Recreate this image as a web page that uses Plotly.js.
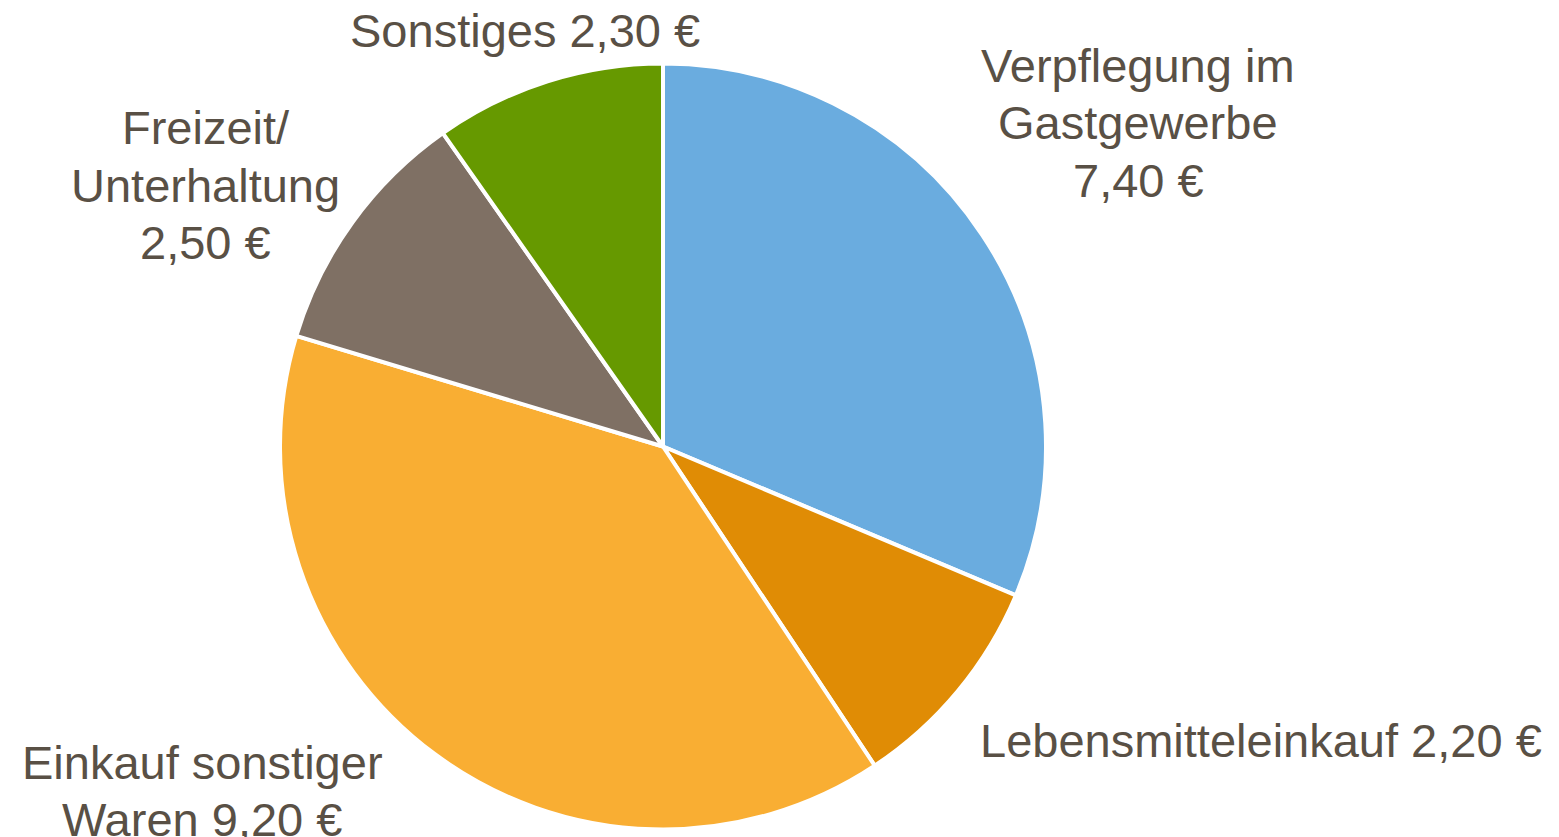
<!DOCTYPE html>
<html>
<head>
<meta charset="utf-8">
<script src="https://cdn.plot.ly/plotly-3.0.1.min.js"></script>
<style>html,body{margin:0;padding:0;background:#fff;}#chart{width:1559px;height:837px;}</style>
</head>
<body>
<div id="chart"></div>
<script>
const categories = ["Verpflegung im Gastgewerbe", "Lebensmitteleinkauf", "Einkauf sonstiger Waren", "Freizeit/ Unterhaltung", "Sonstiges"];
const labelLines = [["Verpflegung im", "Gastgewerbe", "{v}"], ["Lebensmitteleinkauf {v}"], ["Einkauf sonstiger", "Waren {v}"], ["Freizeit/", "Unterhaltung", "{v}"], ["Sonstiges {v}"]];
const values = [7.40, 2.20, 9.20, 2.50, 2.30];
const colors = ["#6aacdf", "#e08c05", "#f9ae33", "#7f7064", "#669900"];
// label placement in pixels (layout only): centre x, middle of first line y
const labelPos = [[1138, 66], [1261, 740], [202, 762], [206, 128], [525, 31]];
const lineGap = 57;

const W = 1559, H = 837;
const fmt = v => v.toFixed(2).replace(".", ",") + " €";

const trace = {
  type: "pie",
  labels: categories,
  values: values,
  sort: false,
  direction: "clockwise",
  rotation: 0,
  textinfo: "none",
  hoverinfo: "label+value",
  marker: {colors: colors, line: {color: "#ffffff", width: 4}},
  domain: {x: [280/W, 1046/W], y: [7.5/H, 773.5/H]},
  showlegend: false
};

const annotations = [];
categories.forEach((c, i) => {
  labelLines[i].forEach((line, k) => {
    annotations.push({
      xref: "paper", yref: "paper",
      x: labelPos[i][0] / W, y: 1 - (labelPos[i][1] + k * lineGap) / H,
      xanchor: "center", yanchor: "middle",
      showarrow: false,
      text: line.replace("{v}", fmt(values[i])),
      font: {family: "Liberation Sans, Arial, sans-serif", size: 47, color: "#595045"}
    });
  });
});

Plotly.newPlot("chart", [trace], {
  width: W, height: H,
  margin: {l: 0, r: 0, t: 0, b: 0},
  paper_bgcolor: "#ffffff",
  annotations: annotations
}, {displayModeBar: false, staticPlot: true});
</script>
</body>
</html>
